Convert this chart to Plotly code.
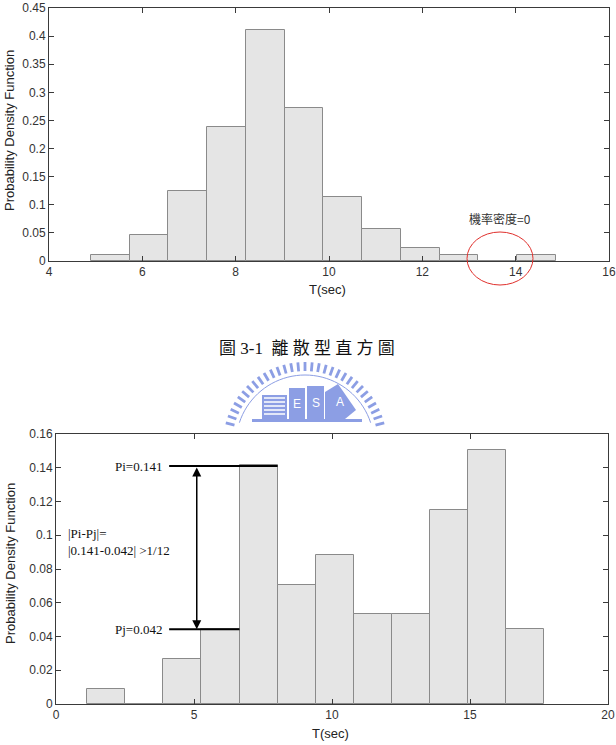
import math
import plotly.graph_objects as go

# ---------------- data ----------------
top_bin_edges = [4.90, 5.73, 6.56, 7.39, 8.22, 9.05, 9.88, 10.71, 11.54, 12.37, 13.20, 14.03, 14.86]
top_pdf = [0.0107, 0.0457, 0.1245, 0.239, 0.410, 0.2727, 0.1132, 0.0563, 0.0225, 0.0107, 0.0, 0.0107]
top_xticks = [4, 6, 8, 10, 12, 14, 16]
top_yticks = [0, 0.05, 0.1, 0.15, 0.2, 0.25, 0.3, 0.35, 0.4, 0.45]
top_yticktext = ["0", "0.05", "0.1", "0.15", "0.2", "0.25", "0.3", "0.35", "0.4", "0.45"]

bot_bin_edges = [1.13, 2.51, 3.89, 5.27, 6.65, 8.03, 9.41, 10.79, 12.17, 13.55, 14.93, 16.31, 17.69]
bot_pdf = [0.0091, 0.0, 0.0269, 0.0443, 0.1414, 0.0707, 0.0885, 0.0531, 0.0531, 0.1148, 0.1503, 0.0446]
bot_xticks = [0, 5, 10, 15, 20]
bot_yticks = [0, 0.02, 0.04, 0.06, 0.08, 0.1, 0.12, 0.14, 0.16]
bot_yticktext = ["0", "0.02", "0.04", "0.06", "0.08", "0.1", "0.12", "0.14", "0.16"]

pi_val = 0.141
pj_val = 0.042

W, H = 616, 745


def px(x):
    return x / W


def py(y):
    return 1 - y / H


def centers_widths(edges):
    c = [(edges[i] + edges[i + 1]) / 2 for i in range(len(edges) - 1)]
    w = [edges[i + 1] - edges[i] for i in range(len(edges) - 1)]
    return c, w


fig = go.Figure()

bar_fill = "#e5e5e5"
bar_line = "#8a8a8a"

tc, tw = centers_widths(top_bin_edges)
fig.add_trace(go.Bar(x=tc, y=top_pdf, width=tw, xaxis="x", yaxis="y",
                     marker=dict(color=bar_fill, line=dict(color=bar_line, width=1)),
                     showlegend=False, hoverinfo="skip"))
bc, bw = centers_widths(bot_bin_edges)
fig.add_trace(go.Bar(x=bc, y=bot_pdf, width=bw, xaxis="x2", yaxis="y2",
                     marker=dict(color=bar_fill, line=dict(color=bar_line, width=1)),
                     showlegend=False, hoverinfo="skip"))

axis_col = "#3a3a3a"
tick_font = dict(family="Liberation Sans, Arial", size=12, color="#333333")
common = dict(showline=True, linecolor=axis_col, linewidth=1, mirror="ticks",
              ticks="inside", ticklen=5, tickcolor=axis_col, showgrid=False,
              zeroline=False, tickfont=tick_font, automargin=False)

fig.update_layout(
    width=W, height=H,
    margin=dict(l=0, r=0, t=0, b=0),
    paper_bgcolor="white", plot_bgcolor="white",
    bargap=0,
    xaxis=dict(domain=[px(49), px(609)], range=[4, 16], anchor="y",
               tickvals=top_xticks, ticktext=[str(v) for v in top_xticks], **common),
    yaxis=dict(domain=[py(261), py(8)], range=[0, 0.45], anchor="x",
               tickvals=top_yticks, ticktext=top_yticktext, **common),
    xaxis2=dict(domain=[px(56), px(608)], range=[0, 20], anchor="y2",
                tickvals=bot_xticks, ticktext=[str(v) for v in bot_xticks], **common),
    yaxis2=dict(domain=[py(704), py(434)], range=[0, 0.16], anchor="x2",
                tickvals=bot_yticks, ticktext=bot_yticktext, **common),
)

ann = []
title_font = dict(family="Liberation Sans, Arial", size=13, color="#222222")
# axis titles
ann.append(dict(x=px(327), y=py(289), xref="paper", yref="paper", text="T(sec)",
                showarrow=False, font=title_font, xanchor="center", yanchor="middle"))
ann.append(dict(x=px(330), y=py(733), xref="paper", yref="paper", text="T(sec)",
                showarrow=False, font=title_font, xanchor="center", yanchor="middle"))
ann.append(dict(x=px(10), y=py(131), xref="paper", yref="paper", text="Probability Density Function",
                showarrow=False, font=title_font, textangle=-90, xanchor="center", yanchor="middle"))
ann.append(dict(x=px(10), y=py(564), xref="paper", yref="paper", text="Probability Density Function",
                showarrow=False, font=title_font, textangle=-90, xanchor="center", yanchor="middle"))

# top annotation
ann.append(dict(x=px(500), y=py(218), xref="paper", yref="paper", text="機率密度=0",
                showarrow=False, font=dict(family="Noto Sans CJK TC", size=12, color="#333333"),
                xanchor="center", yanchor="middle"))

# caption
ann.append(dict(x=px(307), y=py(348), xref="paper", yref="paper",
                text="圖 3-1  離 散 型 直 方 圖", showarrow=False,
                font=dict(family="Liberation Serif, Noto Sans CJK TC", size=17, color="#111111"),
                xanchor="center", yanchor="middle"))

# bottom annotations
serif = dict(family="Liberation Serif, Times New Roman", size=13, color="#111111")
ann.append(dict(x=3.91, y=pi_val, xref="x2", yref="y2", text="Pi=0.141", showarrow=False,
                font=serif, xanchor="right", yanchor="middle"))
ann.append(dict(x=3.91, y=bot_pdf[3], xref="x2", yref="y2", text="Pj=0.042", showarrow=False,
                font=serif, xanchor="right", yanchor="middle"))
ann.append(dict(x=0.36, y=0.0962, xref="x2", yref="y2",
                text="|Pi-Pj|=<br>|0.141-0.042| >1/12", showarrow=False, align="left",
                font=serif, xanchor="left", yanchor="middle"))
# double arrow
ann.append(dict(x=5.1, y=bot_pdf[3], ax=5.1, ay=pi_val, xref="x2", yref="y2",
                axref="x2", ayref="y2", text="", showarrow=True, arrowhead=2,
                arrowside="end+start", arrowsize=1.2, arrowwidth=1.5, arrowcolor="#000000",
                startarrowhead=2, startarrowsize=1.2))

shapes = []
# Pi / Pj lines
shapes.append(dict(type="line", xref="x2", yref="y2", x0=4.1, x1=8.03, y0=pi_val, y1=pi_val,
                   line=dict(color="#000000", width=2), layer="above"))
shapes.append(dict(type="line", xref="x2", yref="y2", x0=4.1, x1=6.65, y0=bot_pdf[3], y1=bot_pdf[3],
                   line=dict(color="#000000", width=2), layer="above"))
# red ellipse (paper coords so it is not clipped)
shapes.append(dict(type="circle", xref="paper", yref="paper",
                   x0=px(467), x1=px(533), y0=py(285), y1=py(232),
                   line=dict(color="#e0302c", width=1)))

# ---- watermark logo (decorative) ----
blue = "rgb(140,158,228)"
cx, cy, R = 305, 444, 82
n_teeth = 31
a0, a1 = 15, 165
for i in range(n_teeth):
    a = math.radians(a0 + (a1 - a0) * i / (n_teeth - 1))
    x0 = cx + (R - 9) * math.cos(a)
    y0 = cy - (R - 9) * math.sin(a)
    x1 = cx + R * math.cos(a)
    y1 = cy - R * math.sin(a)
    shapes.append(dict(type="line", xref="paper", yref="paper",
                       x0=px(x0), y0=py(y0), x1=px(x1), y1=py(y1),
                       line=dict(color=blue, width=2.8)))
# inner arc
pts = []
for k in range(41):
    a = math.radians(18 + 144 * k / 40)
    pts.append((cx + (R - 13) * math.cos(a), cy - (R - 13) * math.sin(a)))
path = "M " + " L ".join(f"{px(x):.5f},{py(y):.5f}" for x, y in pts)
shapes.append(dict(type="path", xref="paper", yref="paper", path=path,
                   line=dict(color=blue, width=1)))
# building blocks
def rect(x0, y0, x1, y1, fill, lc=blue, lw=1):
    shapes.append(dict(type="rect", xref="paper", yref="paper",
                       x0=px(x0), x1=px(x1), y0=py(y1), y1=py(y0),
                       fillcolor=fill, line=dict(color=lc, width=lw)))

rect(252, 419, 362, 422, blue, lw=0)
rect(262, 395, 287, 419, blue, lw=0)
for yy in range(398, 418, 4):
    shapes.append(dict(type="line", xref="paper", yref="paper",
                       x0=px(264), x1=px(285), y0=py(yy), y1=py(yy),
                       line=dict(color="white", width=1.5)))
rect(289, 388, 305, 419, blue, lw=0)
rect(307, 386, 324, 419, blue, lw=0)
shapes.append(dict(type="path", xref="paper", yref="paper",
                   path=f"M {px(325)},{py(419)} L {px(325)},{py(392)} L {px(338)},{py(384)} "
                        f"L {px(356)},{py(410)} L {px(345)},{py(419)} Z",
                   fillcolor=blue, line=dict(color=blue, width=0)))
for t, xx, yy in [("E", 297, 404), ("S", 315.5, 403), ("A", 340, 402)]:
    ann.append(dict(x=px(xx), y=py(yy), xref="paper", yref="paper", text=t, showarrow=False,
                    font=dict(family="Liberation Sans", size=12, color="white"),
                    xanchor="center", yanchor="middle"))

fig.update_layout(annotations=ann, shapes=shapes)

fig.write_html("out.html")
